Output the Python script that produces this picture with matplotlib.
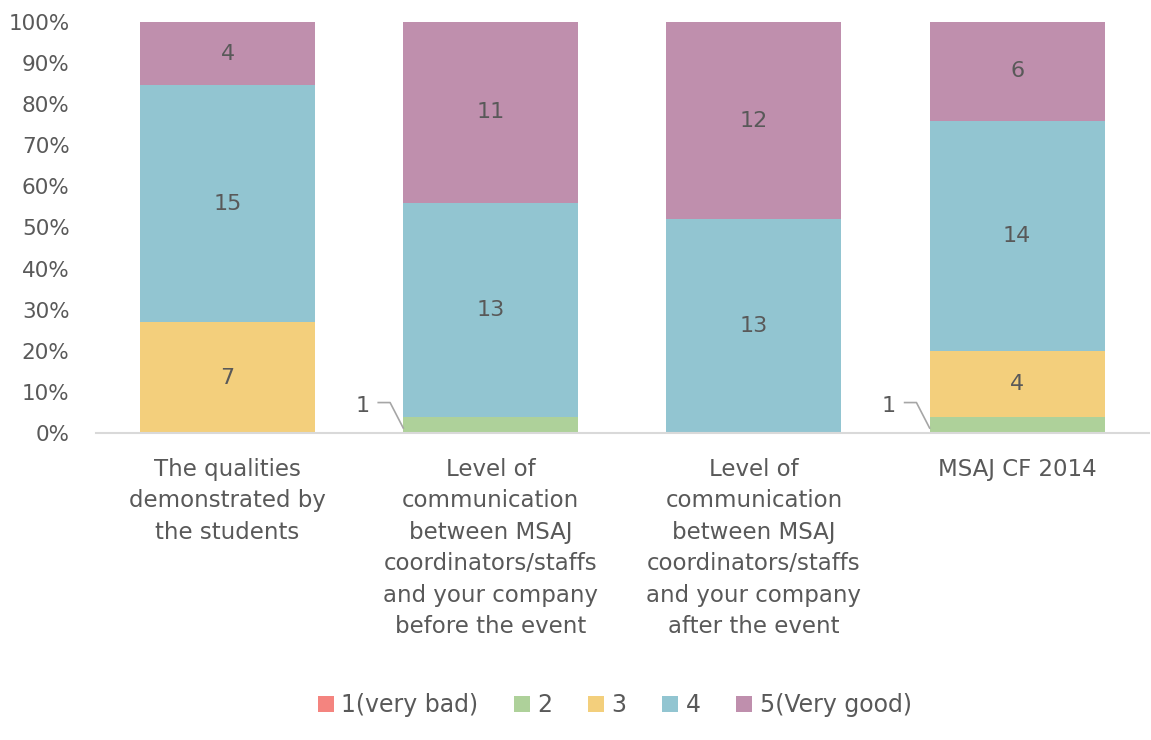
import numpy as np
import matplotlib.pyplot as plt

# Survey answers per question (counts), 100% stacked
categories = ['The qualities\ndemonstrated by\nthe students',
              'Level of\ncommunication\nbetween MSAJ\ncoordinators/staffs\nand your company\nbefore the event',
              'Level of\ncommunication\nbetween MSAJ\ncoordinators/staffs\nand your company\nafter the event',
              'MSAJ CF 2014']
series_names = ['1(very bad)', '2', '3', '4', '5(Very good)']
very_bad = [0, 0, 0, 0]
two = [0, 1, 0, 1]
three = [7, 0, 0, 4]
four = [15, 13, 13, 14]
very_good = [4, 11, 12, 6]

colors = ['#F4847F', '#AED19A', '#F3CF7C', '#92C5D1', '#BF8FAD']
text_color = '#595959'

plt.rcParams['font.family'] = ['DejaVu Sans']
plt.rcParams['font.size'] = 15

counts = np.array([very_bad, two, three, four, very_good], dtype=float)
totals = counts.sum(axis=0)
shares = counts / totals

fig = plt.figure(figsize=(11.51, 7.40), dpi=100)
ax = fig.add_axes([0.0834, 0.4149, 0.9146, 0.5554])

x = np.arange(len(categories))
width = 0.665
bottom = np.zeros(len(categories))
for i, name in enumerate(series_names):
    ax.bar(x, shares[i], width, bottom=bottom, color=colors[i], label=name)
    for j in range(len(categories)):
        if counts[i, j] == 0:
            continue
        mid = bottom[j] + shares[i, j] / 2
        if shares[i, j] < 0.06:
            # small segment: label outside with leader line
            left = x[j] - width / 2
            ax.plot([left - 0.095, left - 0.05, left], [0.074, 0.074, 0.012],
                    color='#A6A6A6', lw=1.2, clip_on=False)
            ax.text(left - 0.155, 0.066, '%d' % counts[i, j], ha='center',
                    va='center', color=text_color, fontsize=16)
        else:
            ax.text(x[j], mid, '%d' % counts[i, j], ha='center', va='center',
                    color=text_color, fontsize=16)
    bottom += shares[i]

ax.set_xlim(-0.5, len(categories) - 0.5)
ax.set_ylim(0, 1)
ax.set_yticks(np.arange(0, 1.01, 0.1))
ax.set_yticklabels(['%d%%' % v for v in range(0, 101, 10)])
ax.set_xticks(x)
ax.set_xticklabels(categories, linespacing=1.47, va='top', fontsize=16.5)
ax.tick_params(axis='both', length=0, colors=text_color)
ax.tick_params(axis='y', labelsize=15.5, pad=19)
ax.tick_params(axis='x', pad=18)
for s in ['top', 'right', 'left']:
    ax.spines[s].set_visible(False)
ax.spines['bottom'].set_color('#D9D9D9')
ax.spines['bottom'].set_linewidth(1.5)

leg = fig.legend(loc='center', bbox_to_anchor=(0.534, 0.047), ncol=5,
                 frameon=False, handlelength=0.7, handleheight=0.7,
                 handletextpad=0.3, columnspacing=1.5, fontsize=17)
for t in leg.get_texts():
    t.set_color(text_color)

plt.savefig('out.png', dpi=100)
